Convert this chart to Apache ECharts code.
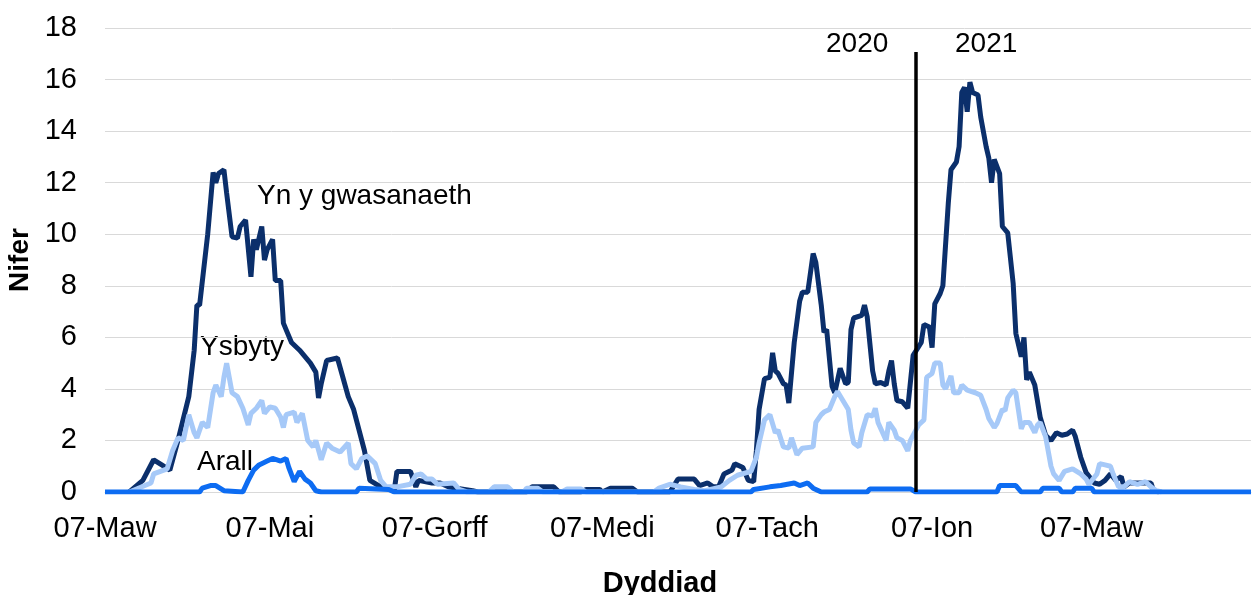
<!DOCTYPE html>
<html>
<head>
<meta charset="utf-8">
<title>Nifer</title>
<script src="https://cdn.jsdelivr.net/npm/echarts@6/dist/echarts.min.js"></script>
<style>
  html, body { margin: 0; padding: 0; background: #fff; }
  #chart { width: 1255px; height: 595px; }
</style>
</head>
<body>
<div id="chart"></div>
<script>
// days counted from 07-Mar-2020 (day 0) to the end of the axis
const firstDay = [2020, 2, 7];
const dayCount = 425;
const monthNames = ['Ion', 'Chwef', 'Maw', 'Ebr', 'Mai', 'Meh', 'Gorff', 'Awst', 'Medi', 'Hyd', 'Tach', 'Rhag'];
const yTicks = { min: 0, max: 18, interval: 2 };

// Yn y gwasanaeth
const serviceDays = [9, 14, 18, 21, 24, 27, 31, 33, 34, 35, 38, 40, 41, 42, 44, 45, 47, 49, 50, 52,
  54, 55, 56, 58, 59, 60, 62, 63, 65, 66, 67, 69, 72, 76, 78, 79, 80, 82, 86, 88,
  90, 92, 94, 96, 98, 102, 107, 108, 113, 115, 116, 121, 124, 127, 136, 138, 156, 158, 166, 168,
  176, 178, 183, 184, 187, 195, 197, 209, 212, 218, 220, 223, 225, 227, 229, 232, 233, 236, 238, 240,
  241, 242, 244, 246, 247, 248, 249, 251, 252, 253, 255, 257, 258, 260, 262, 263, 265, 266, 267, 269,
  270, 272, 274, 275, 276, 277, 280, 281, 282, 284, 285, 287, 289, 290, 291, 292, 293, 295, 297, 299,
  302, 303, 305, 306, 307, 309, 310, 312, 313, 315, 316, 317, 318, 319, 320, 321, 323, 324, 326, 327,
  328, 329, 331, 332, 334, 336, 337, 339, 340, 341, 342, 344, 346, 348, 350, 352, 354, 356, 358, 359,
  361, 363, 366, 368, 370, 372, 374, 376, 377, 379, 387, 388, 390];
const serviceVals = [0, 0.45, 1.25, 1.05, 0.85, 2.0, 3.7, 5.5, 7.25, 7.25, 10.0, 12.4, 12.0, 12.35, 12.5, 11.6, 9.9, 9.85, 10.3, 10.55,
  8.35, 9.8, 9.4, 10.3, 9.0, 9.4, 9.8, 8.2, 8.2, 6.55, 6.3, 5.8, 5.5, 5.0, 4.65, 3.65, 4.2, 5.1, 5.2, 4.45,
  3.7, 3.2, 2.4, 1.6, 0.45, 0.2, 0.05, 0.8, 0.8, 0.2, 0.45, 0.35, 0.35, 0.2, 0.05, 0, 0, 0.2, 0.2, 0,
  0, 0.1, 0.1, 0, 0.15, 0.15, 0, 0, 0.5, 0.5, 0.25, 0.35, 0.2, 0.2, 0.7, 0.85, 1.1, 0.95, 0.45, 0.4,
  1.6, 3.2, 4.4, 4.45, 5.4, 4.7, 4.6, 4.2, 4.15, 3.45, 5.8, 7.4, 7.75, 7.75, 9.25, 8.9, 7.25, 6.2, 6.3, 4.1,
  3.85, 4.8, 4.2, 4.25, 6.3, 6.75, 6.85, 7.25, 6.8, 4.7, 4.2, 4.25, 4.15, 4.7, 5.1, 4.2, 3.55, 3.5, 3.25, 5.3,
  5.8, 6.5, 6.4, 5.6, 7.3, 7.7, 8.0, 11.2, 12.5, 12.8, 13.4, 15.5, 15.7, 14.75, 15.9, 15.5, 15.4, 14.55, 13.4, 12.95,
  12.0, 12.9, 12.35, 10.3, 10.05, 8.1, 6.15, 5.25, 6.0, 4.35, 4.65, 4.15, 2.9, 2.2, 2.0, 2.3, 2.2, 2.25, 2.4, 2.15,
  1.35, 0.75, 0.35, 0.3, 0.45, 0.7, 0.45, 0.6, 0.2, 0.35, 0.35, 0.05, 0];

// Ysbyty
const hospitalDays = [9, 17, 18, 23, 25, 27, 29, 31, 33, 34, 36, 38, 40, 41, 43, 44, 45, 47, 49, 51,
  53, 54, 56, 58, 59, 61, 63, 65, 66, 67, 70, 71, 73, 75, 77, 78, 80, 82, 84, 87,
  90, 91, 93, 95, 97, 100, 102, 104, 108, 113, 115, 117, 119, 121, 123, 129, 131, 134, 142, 144,
  149, 151, 155, 156, 160, 162, 169, 171, 176, 178, 203, 205, 209, 213, 218, 222, 228, 231, 234, 239,
  241, 242, 244, 246, 248, 249, 251, 253, 254, 256, 258, 262, 263, 265, 266, 268, 270, 271, 273, 275,
  276, 277, 279, 280, 282, 284, 285, 286, 289, 290, 292, 293, 295, 297, 298, 300, 301, 303, 304, 306,
  307, 309, 310, 311, 313, 314, 316, 317, 319, 322, 324, 326, 327, 329, 330, 332, 333, 334, 336, 337,
  339, 340, 342, 344, 345, 346, 348, 350, 351, 353, 355, 358, 361, 363, 364, 367, 368, 370, 372, 373,
  375, 377, 379, 382, 385, 387, 389, 391];
const hospitalVals = [0, 0.35, 0.7, 0.9, 1.6, 2.1, 2.0, 3.0, 2.3, 2.1, 2.7, 2.5, 3.85, 4.15, 3.7, 4.45, 5.0, 3.85, 3.7, 3.25,
  2.6, 3.05, 3.25, 3.55, 3.05, 3.3, 3.25, 2.9, 2.5, 3.0, 3.1, 2.7, 3.05, 2.0, 1.75, 2.0, 1.25, 1.9, 1.7, 1.55,
  1.9, 1.1, 0.9, 1.3, 1.4, 1.1, 0.45, 0.2, 0.2, 0.3, 0.65, 0.7, 0.5, 0.5, 0.3, 0.35, 0.1, 0, 0, 0.2,
  0.2, 0, 0, 0.15, 0.15, 0, 0, 0.12, 0.12, 0, 0, 0.15, 0.3, 0.2, 0.1, 0.05, 0.2, 0.45, 0.65, 0.8,
  1.35, 1.9, 2.8, 3.0, 2.3, 2.4, 1.75, 1.7, 2.1, 1.45, 1.7, 1.75, 2.7, 3.0, 3.1, 3.2, 3.7, 3.9, 3.55, 3.2,
  2.4, 1.9, 1.75, 2.3, 3.0, 2.95, 3.25, 2.7, 2.0, 2.7, 2.4, 2.1, 2.0, 1.6, 2.0, 2.4, 2.6, 2.8, 4.45, 4.6,
  5.0, 5.0, 4.15, 4.0, 4.5, 3.85, 3.85, 4.15, 3.95, 3.85, 3.75, 3.2, 2.85, 2.5, 2.65, 3.2, 3.15, 3.65, 3.95, 3.85,
  2.45, 2.7, 2.7, 2.3, 2.6, 2.7, 2.15, 1.0, 0.7, 0.45, 0.8, 0.9, 0.7, 0.5, 0.3, 0.7, 1.1, 1.05, 1.0, 0.7,
  0.2, 0.2, 0.4, 0.3, 0.4, 0.2, 0.05, 0];

// Arall
const otherDays = [0, 35, 36, 39, 41, 44, 51, 53, 55, 57, 60, 62, 65, 67, 68, 70, 72, 74, 76, 78,
  80, 93, 94, 105, 107, 239, 240, 246, 250, 255, 257, 260, 262, 265, 282, 283, 298, 300, 330, 331,
  337, 339, 346, 347, 353, 354, 358, 359, 365, 366, 424];
const otherVals = [0, 0, 0.15, 0.25, 0.25, 0.05, 0, 0.45, 0.85, 1.05, 1.2, 1.3, 1.2, 1.3, 0.95, 0.4, 0.8, 0.5, 0.35, 0.05,
  0, 0, 0.15, 0.1, 0, 0, 0.1, 0.2, 0.25, 0.35, 0.25, 0.35, 0.15, 0, 0, 0.12, 0.12, 0, 0, 0.25,
  0.25, 0, 0, 0.15, 0.15, 0, 0, 0.15, 0.15, 0, 0];

// 1 Ionawr 2021 = day 300
const yearBreakDay = 300;
const yearBreakTop = 17.07;

const dates = [];
for (let i = 0; i < dayCount; i++) {
  const d = new Date(Date.UTC(firstDay[0], firstDay[1], firstDay[2] + i));
  dates.push(d.toISOString().slice(0, 10));
}
function pairs(days, vals) {
  return days.map((d, i) => [d, vals[i]]);
}
function isLabelDay(value) {
  const m = +value.slice(5, 7);
  return value.slice(8) === '07' && m % 2 === 1;
}

const font = 'Liberation Sans, Arial, sans-serif';
const chart = echarts.init(document.getElementById('chart'));
const lineBase = { type: 'line', showSymbol: false, symbol: 'none', smooth: false, silent: true };

chart.setOption({
  animation: false,
  grid: { left: 105, right: 4, top: 28, bottom: 103, containLabel: false, outerBoundsMode: 'none' },
  xAxis: {
    type: 'category',
    data: dates,
    boundaryGap: false,
    axisLine: { show: true, lineStyle: { color: '#d9d9d9', width: 1 } },
    axisTick: { show: false },
    axisLabel: {
      interval: (index, value) => isLabelDay(value),
      formatter: value => '07-' + monthNames[+value.slice(5, 7) - 1],
      color: '#000',
      fontSize: 29,
      fontFamily: font,
      margin: 22,
      hideOverlap: false
    },
    splitLine: { show: false }
  },
  yAxis: {
    type: 'value',
    min: yTicks.min,
    max: yTicks.max,
    interval: yTicks.interval,
    name: 'Nifer',
    nameLocation: 'middle',
    nameGap: 70,
    nameRotate: 90,
    nameTextStyle: { color: '#000', fontSize: 28, fontWeight: 'bold', fontFamily: font },
    axisLine: { show: false },
    axisTick: { show: false },
    axisLabel: { color: '#000', fontSize: 29, fontFamily: font, margin: 28 },
    splitLine: { lineStyle: { color: '#d9d9d9', width: 1 } }
  },
  graphic: [
    { type: 'text', left: 257, top: 182, style: { text: 'Yn y gwasanaeth', font: '28px ' + font, fill: '#000' } },
    { type: 'text', left: 200, top: 333, style: { text: 'Ysbyty', font: '28px ' + font, fill: '#000' } },
    { type: 'text', left: 197, top: 448, style: { text: 'Arall', font: '28px ' + font, fill: '#000' } },
    { type: 'text', left: 826, top: 30, style: { text: '2020', font: '28px ' + font, fill: '#000' } },
    { type: 'text', left: 955, top: 30, style: { text: '2021', font: '28px ' + font, fill: '#000' } },
    { type: 'text', x: 660, y: 569, style: { text: 'Dyddiad', font: 'bold 29px ' + font, fill: '#000', align: 'center' } }
  ],
  series: [
    Object.assign({}, lineBase, {
      name: 'Yn y gwasanaeth',
      data: pairs(serviceDays, serviceVals),
      lineStyle: { color: '#0b2f6b', width: 5 },
      markLine: {
        silent: true,
        symbol: 'none',
        label: { show: false },
        lineStyle: { color: '#000', width: 3.5, type: 'solid' },
        data: [[{ coord: [yearBreakDay, 0] }, { coord: [yearBreakDay, yearBreakTop] }]]
      }
    }),
    Object.assign({}, lineBase, {
      name: 'Ysbyty',
      data: pairs(hospitalDays, hospitalVals),
      lineStyle: { color: '#a6c9f8', width: 5 }
    }),
    Object.assign({}, lineBase, {
      name: 'Arall',
      data: pairs(otherDays, otherVals),
      lineStyle: { color: '#0d6cf2', width: 5 }
    })
  ]
});
</script>
</body>
</html>
